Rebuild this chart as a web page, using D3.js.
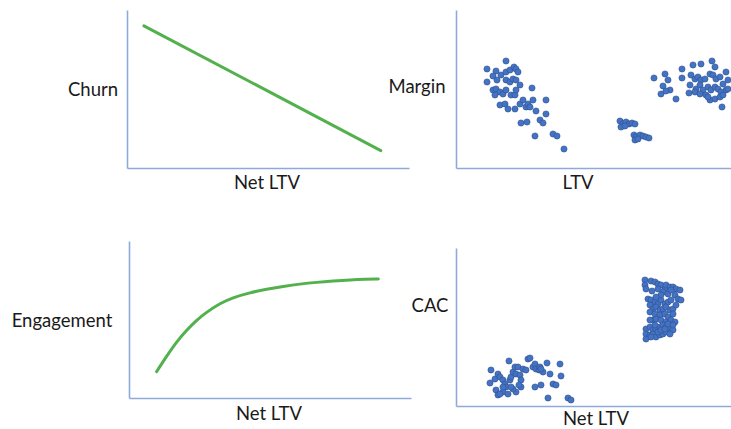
<!DOCTYPE html>
<html><head><meta charset="utf-8">
<script src="https://cdn.jsdelivr.net/npm/d3@7"></script>
<style>
html,body{margin:0;padding:0;background:#fff;}
svg{display:block;}
text{font-family:Lato,"Open Sans",sans-serif;font-size:18.5px;fill:#1a1a1a;}
</style></head>
<body><svg id="c" width="731" height="429"></svg>
<script>
// Panel 1: Churn vs Net LTV (straight line)
const churnNetLTV = [6, 90];
const churnValues = [90, 11];

// Panel 3: Engagement vs Net LTV (saturating curve)
const engNetLTV = [9.8, 13.4, 16.9, 20.5, 24.0, 27.6, 32.3, 37.0, 42.9, 48.8, 54.7, 60.6, 66.6, 72.4, 78.4, 84.3, 88.4];
const engValues = [16.8, 26.8, 35.9, 43.3, 49.7, 54.8, 60.3, 64.1, 67.1, 69.4, 71.1, 72.6, 73.7, 74.5, 75.2, 75.6, 75.8];

// Panel 2: Margin vs LTV (scatter)
const marginLTV = [31,50,40,31,37,41,45,50,54,58,60,62,50,54,57,60,64,37,40,44,39,47,50,55,59,60,76,44,49,52,59,64,67,70,72,77,74,80,90,90,65,71,84,87,79,97,101,108,
 164,167,170,173,176,179,165,169,178,180,184,187,190,193,179,182,
 198,209,212,214,205,207,210,220,226,226,237,245,256,259,270,235,239,242,245,249,254,257,260,264,267,272,234,240,244,247,252,255,259,262,265,270,233,239,244,250,254,259,264,267,272,266,252];
const marginValues = [99,107,97,86,92,88,93,96,98,101,99,96,88,86,89,88,83,78,79,76,73,74,78,73,73,78,80,63,64,59,59,64,68,61,64,68,61,57,68,54,45,46,48,45,32,34,32,19,
 47,44,46,44,45,44,41,42,33,31,33,32,31,30,28,29,
 90,94,88,78,74,82,77,69,99,90,103,104,107,101,96,93,89,91,88,89,94,93,89,91,84,88,83,79,83,78,81,78,81,79,76,78,75,76,74,73,68,69,71,73,79,61,71];

// Panel 4: CAC vs Net LTV (scatter)
const cacNetLTV = [35,34,39,42,44,47,49,40,42,47,52,50,54,55,57,59,62,60,64,65,65,60,57,53,67,70,72,74,77,79,80,83,84,87,85,91,94,104,105,79,85,97,100,92,112,115,63,55,47,44,
 189,189,190,195,199,202,205,209,210,214,217,220,224,196,207,212,215,219,222,225,192,195,199,202,205,209,212,215,194,197,200,204,207,210,214,217,220,194,199,204,209,212,217,197,200,205,210,215,219,190,194,197,200,204,207,210,214,217,190,194,197,200,204,207,210,214,190,195,199,202,205,209,212,194,217,202,205,200];
const cacValues = [36,23,27,32,29,26,22,16,11,14,12,19,26,29,34,39,39,32,31,26,19,14,17,45,37,36,47,48,39,42,37,36,39,34,37,43,32,42,30,19,21,22,21,8,8,6,21,19,19,12,
 126,121,117,125,124,122,121,117,121,119,119,117,116,115,114,112,116,111,107,106,107,106,104,102,106,102,104,106,101,97,99,96,97,99,96,97,101,94,92,91,92,89,92,86,87,86,84,86,84,77,79,76,77,79,81,79,77,76,72,71,72,69,71,72,74,72,67,69,81,74,76,77,82,86,81,117,111,109];

const axisColor = "#8eaadb";
const lineColor = "#52b14c";
const dotFill = "#4472c4";
const dotStroke = "#2f528f";

const svg = d3.select("#c");

function drawAxes(x, y, x0, yBottom) {
  const gx = svg.append("g").attr("transform", `translate(0,${yBottom})`)
    .call(d3.axisBottom(x).ticks(0).tickSize(0).tickSizeOuter(0));
  const gy = svg.append("g").attr("transform", `translate(${x0},0)`)
    .call(d3.axisLeft(y).ticks(0).tickSize(0).tickSizeOuter(0));
  [gx, gy].forEach(g => g.select(".domain").attr("stroke", axisColor).attr("stroke-width", 1.6));
}

function label(t, x, yb, anchor) {
  svg.append("text").attr("x", x).attr("y", yb).attr("text-anchor", anchor || "middle").text(t);
}

// Panel 1
{
  const x = d3.scaleLinear().domain([0, 100]).range([127, 409]);
  const y = d3.scaleLinear().domain([0, 100]).range([168, 10]);
  drawAxes(x, y, 127, 168);
  const pts = churnNetLTV.map((v, i) => [v, churnValues[i]]);
  svg.append("path").datum(pts).attr("fill", "none").attr("stroke", lineColor)
    .attr("stroke-width", 3).attr("stroke-linecap", "round")
    .attr("d", d3.line().x(d => x(d[0])).y(d => y(d[1])));
  label("Churn", 93, 96);
  label("Net LTV", 267, 189);
}

// Panel 3
{
  const x = d3.scaleLinear().domain([0, 100]).range([129, 411]);
  const y = d3.scaleLinear().domain([0, 100]).range([398, 241]);
  drawAxes(x, y, 129, 398);
  const pts = engNetLTV.map((v, i) => [v, engValues[i]]);
  svg.append("path").datum(pts).attr("fill", "none").attr("stroke", lineColor)
    .attr("stroke-width", 3).attr("stroke-linecap", "round")
    .attr("d", d3.line().curve(d3.curveBasis).x(d => x(d[0])).y(d => y(d[1])));
  label("Engagement", 62, 327);
  label("Net LTV", 269, 420);
}

function scatter(xs, ys, x, y) {
  svg.append("g").selectAll("circle").data(xs.map((v, i) => [v, ys[i]])).join("circle")
    .attr("cx", d => x(d[0])).attr("cy", d => y(d[1])).attr("r", 3.1)
    .attr("fill", dotFill).attr("stroke", dotStroke).attr("stroke-width", 0.6);
}

// Panel 2
{
  const x = d3.scaleLinear().domain([0, 275]).range([456, 731]);
  const y = d3.scaleLinear().domain([0, 158]).range([168, 10]);
  drawAxes(x, y, 456, 168);
  scatter(marginLTV, marginValues, x, y);
  label("Margin", 417, 93);
  label("LTV", 578, 189);
}

// Panel 4
{
  const x = d3.scaleLinear().domain([0, 275]).range([456, 731]);
  const y = d3.scaleLinear().domain([0, 158]).range([406, 248]);
  drawAxes(x, y, 456, 406);
  scatter(cacNetLTV, cacValues, x, y);
  label("CAC", 430, 312);
  label("Net LTV", 596, 425);
}
</script></body></html>
